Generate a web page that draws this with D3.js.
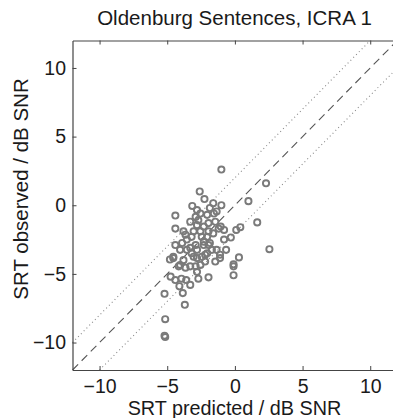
<!DOCTYPE html>
<html>
<head>
<meta charset="utf-8">
<script src="https://cdn.jsdelivr.net/npm/d3@7"></script>
<style>
html,body{margin:0;padding:0;background:#fff;}
svg{display:block;}
text{font-family:"Liberation Sans",Arial,Helvetica,sans-serif;}
</style>
</head>
<body>
<script>
// ---- data ----
const titleText = "Oldenburg Sentences, ICRA 1";
const xLabel = "SRT predicted / dB SNR";
const yLabel = "SRT observed / dB SNR";
const xDomain = [-12, 12];
const yDomain = [-12, 12];
const xTicks = [-10, -5, 0, 5, 10];
const yTicks = [-10, -5, 0, 5, 10];
const toleranceBand = 2; // dotted lines y = x ± 2
const predicted = [
 -1.0, 2.3, 1.0, -2.6, -2.25, -4.4, -3.15, -1.6, -1.0, -1.85,
 -1.35, -2.8, -2.55, -1.55, -2.05, -2.9, -2.7, -2.8, -3.05, -3.2,
 -2.55, -2.45, -2.05, -2.3, -1.85, -1.7, -1.35, -2.9, -3.55, -3.9,
 -4.05, -3.55, -4.55, -2.45, -3.65, -3.8, -3.3, -2.3, -1.95, -1.6,
 -1.95, -2.8, -3.2, -2.05, -1.1, -1.95, -1.2, -1.45, -1.05, -0.8,
 1.65, 0.4, 0.1, -4.4, -0.3, -0.8, 2.55, -0.65, 0.3, -0.1,
 -4.4, -4.55, -3.3, -2.3, -2.2, -2.8, -3.8, -4.05, -1.1, -1.45,
 -4.8, -3.05, -2.55, -2.2, -4.15, -3.65, -3.3, -2.9, -4.75, -4.4,
 -3.95, -3.6, -2.8, -2.7, -1.95, -3.3, -4.1, -3.85, -5.2, -3.7,
 -5.15, -5.2, -5.15, -0.1, -0.1
];
const observed = [
 2.6, 1.6, 0.3, 1.0, 0.45, -0.75, -0.05, 0.15, 0.0, -0.2,
 -0.45, -0.35, -0.6, -0.6, -0.7, -0.85, -1.1, -1.45, -1.9, -2.3,
 -1.9, -2.3, -2.3, -2.65, -2.75, -3.25, -3.25, -2.9, -2.5, -2.75,
 -3.25, -3.25, -3.75, -3.75, -2.15, -1.9, -1.2, -1.55, -1.9, -2.05,
 -2.9, -3.25, -3.5, -3.5, -3.6, -1.3, -1.7, -1.2, -1.55, -1.8,
 -1.25, -1.6, -1.8, -1.7, -2.35, -2.5, -3.2, -3.25, -3.8, -4.3,
 -2.9, -3.85, -3.1, -2.9, -3.6, -3.85, -4.0, -4.35, -3.85, -4.1,
 -3.95, -3.75, -4.35, -4.1, -4.45, -4.55, -4.45, -4.45, -5.2, -5.45,
 -5.35, -5.45, -4.85, -5.35, -5.25, -5.8, -5.9, -6.4, -6.45, -7.25,
 -8.3, -9.5, -9.6, -5.1, -4.45
];

// ---- layout ----
const W = 393, H = 418;
const svg = d3.select("body").append("svg").attr("width", W).attr("height", H);

const x = d3.scaleLinear().domain(xDomain).range([72.5, 397.3]);
const y = d3.scaleLinear().domain(yDomain).range([370, 40.5]);

const axisColor = "#444";
const textColor = "#1a1a1a";
const fontFam = '"Liberation Sans",Arial,Helvetica,sans-serif';

// reference lines
const g = svg.append("g");
const lineGen = d3.line().x(d => x(d[0])).y(d => y(d[1]));
g.append("path")
  .attr("d", lineGen([[-12, -12], [12, 12]]))
  .attr("fill", "none").attr("stroke", "#555").attr("stroke-width", 1.1)
  .attr("stroke-dasharray", "8,5");
g.append("path")
  .attr("d", lineGen([[-12, -12 + toleranceBand], [12 - toleranceBand, 12]]))
  .attr("fill", "none").attr("stroke", "#888").attr("stroke-width", 1.1)
  .attr("stroke-dasharray", "1,3");
g.append("path")
  .attr("d", lineGen([[-12 + toleranceBand, -12], [12, 12 - toleranceBand]]))
  .attr("fill", "none").attr("stroke", "#888").attr("stroke-width", 1.1)
  .attr("stroke-dasharray", "1,3");

// points
const pts = predicted.map((p, i) => ({p, o: observed[i]}));
svg.append("g").selectAll("circle").data(pts).join("circle")
  .attr("cx", d => x(d.p)).attr("cy", d => y(d.o))
  .attr("r", 3.1)
  .attr("fill", "none").attr("stroke", "#7a7a7a").attr("stroke-width", 1.9);

// axes
const fmt = d => d < 0 ? "\u2212" + Math.abs(d) : String(d);
function styleAxis(sel) {
  sel.selectAll(".domain").attr("stroke", axisColor).attr("stroke-width", 1.2);
  sel.selectAll(".tick line").attr("stroke", axisColor).attr("stroke-width", 1);
  sel.selectAll(".tick text").attr("fill", textColor).attr("font-size", 19.5)
     .attr("font-family", fontFam);
}
svg.append("g").attr("transform", `translate(0,${y(-12)})`)
  .call(d3.axisBottom(x).tickValues(xTicks).tickFormat(fmt).tickSize(-4).tickSizeOuter(0).tickPadding(9))
  .call(styleAxis);
svg.append("g").attr("transform", `translate(0,${y(12)})`)
  .call(d3.axisTop(x).tickValues(xTicks).tickFormat("").tickSize(-4).tickSizeOuter(0))
  .call(styleAxis);
svg.append("g").attr("transform", `translate(${x(-12)},0)`)
  .call(d3.axisLeft(y).tickValues(yTicks).tickFormat(fmt).tickSize(-4).tickSizeOuter(0).tickPadding(6.5))
  .call(styleAxis);
svg.append("g").attr("transform", `translate(${x(12)},0)`)
  .call(d3.axisRight(y).tickValues(yTicks).tickFormat("").tickSize(-4).tickSizeOuter(0))
  .call(styleAxis);

// titles
svg.append("text").attr("x", 234.5).attr("y", 24.5).attr("text-anchor", "middle")
  .attr("font-size", 20.5).attr("fill", textColor).text(titleText);
svg.append("text").attr("x", 234.5).attr("y", 414.5).attr("text-anchor", "middle")
  .attr("font-size", 19.8).attr("fill", textColor).text(xLabel);
svg.append("text").attr("transform", "translate(28,189) rotate(-90)").attr("text-anchor", "middle")
  .attr("font-size", 20.5).attr("fill", textColor).text(yLabel);
</script>
</body>
</html>
